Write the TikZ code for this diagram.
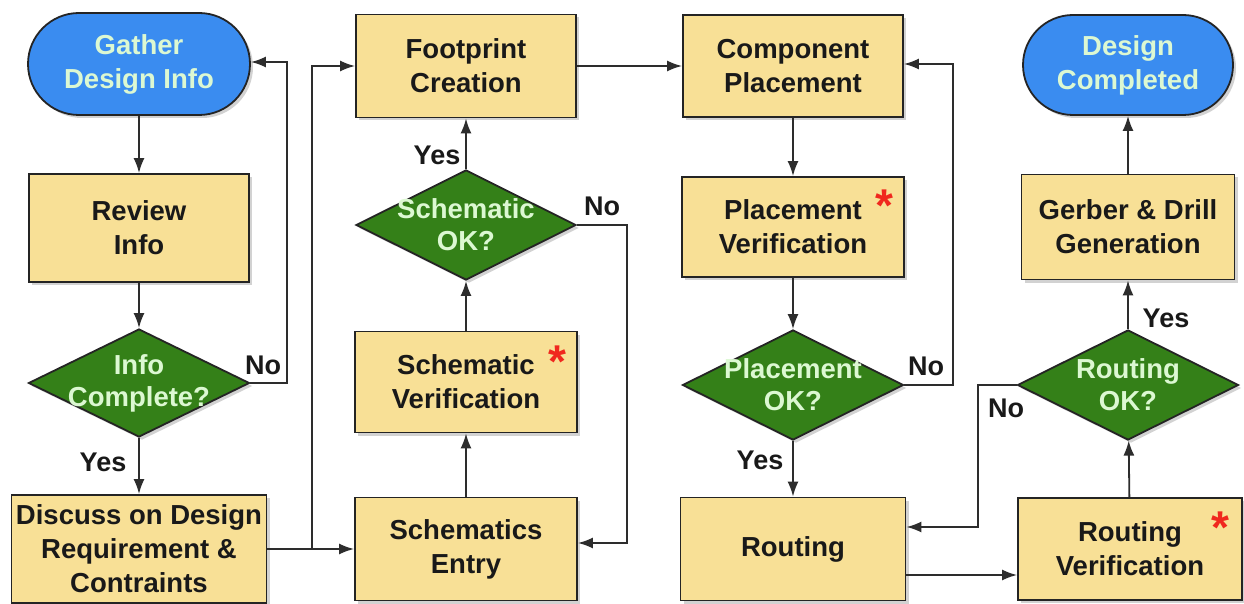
\documentclass[tikz,border=0pt]{standalone}
\usepackage{fontspec}
\setmainfont{Liberation Sans}
\usetikzlibrary{shapes.geometric,shapes.misc,arrows.meta,shadows}
\definecolor{boxyellow}{RGB}{248,224,150}
\definecolor{decgreen}{RGB}{52,128,24}
\definecolor{termblue}{RGB}{58,140,240}
\definecolor{lighttxt}{RGB}{220,248,210}
\definecolor{edgegray}{RGB}{45,45,45}
\definecolor{stared}{RGB}{240,40,30}
\tikzset{
  base/.style={draw=edgegray!80!black, line width=1.8pt, align=center,
    font=\fontsize{27.5}{34}\selectfont\bfseries,
    drop shadow={shadow xshift=3pt, shadow yshift=-3pt, opacity=0.35}},
  procbox/.style={base, rectangle, fill=boxyellow, text=black!90, inner sep=0pt},
  termbox/.style={base, rounded rectangle, fill=termblue, text=lighttxt, inner sep=0pt},
  decbox/.style={base, diamond, fill=decgreen, inner sep=0pt, aspect=2},
  dectext/.style={text=lighttxt, align=center, font=\fontsize{27.5}{32}\selectfont\bfseries},
  conn/.style={draw=edgegray, line width=1.8pt, -{Latex[length=15pt,width=11pt]}},
  lab/.style={font=\fontsize{27}{30}\selectfont\bfseries, text=black!90, inner sep=0pt},
  starmark/.style={font=\fontsize{46}{46}\selectfont\bfseries, text=stared, inner sep=0pt}
}
\begin{document}
\begin{tikzpicture}[x=1pt,y=-1pt]
\fill[white] (0,0) rectangle (1244,604);
\useasboundingbox (0,0) rectangle (1244,604);
% column 1
\node[termbox, minimum width=222pt, minimum height=102pt] (gather) at (139,64) {Gather\\Design Info};
\node[procbox, minimum width=220pt, minimum height=108pt] (review) at (139,228) {Review\\Info};
\node[decbox, minimum width=221pt, minimum height=108pt,
  label={[dectext]center:Info\\Complete?}] (info) at (139,383) {};
\node[procbox, minimum width=255pt, minimum height=108pt] (discuss) at (139,549) {Discuss on Design\\Requirement \&\\Contraints};
% column 2
\node[procbox, minimum width=220pt, minimum height=103pt] (foot) at (466,66) {Footprint\\Creation};
\node[decbox, minimum width=220pt, minimum height=110pt,
  label={[dectext]center:Schematic\\OK?}] (schok) at (466,225) {};
\node[procbox, minimum width=222pt, minimum height=101pt] (schver) at (466,382) {Schematic\\Verification};
\node[procbox, minimum width=222pt, minimum height=103pt] (schent) at (466,549) {Schematics\\Entry};
% column 3
\node[procbox, minimum width=220pt, minimum height=102pt] (comp) at (793,66) {Component\\Placement};
\node[procbox, minimum width=222pt, minimum height=100pt] (plver) at (793,227) {Placement\\Verification};
\node[decbox, minimum width=221pt, minimum height=110pt,
  label={[dectext]center:Placement\\OK?}] (plok) at (793,385) {};
\node[procbox, minimum width=225pt, minimum height=103pt] (route) at (793,549) {Routing};
% column 4
\node[termbox, minimum width=210pt, minimum height=100pt] (done) at (1128,65) {Design\\Completed};
\node[procbox, minimum width=213pt, minimum height=105pt] (gerber) at (1128,227) {Gerber \& Drill\\Generation};
\node[decbox, minimum width=221pt, minimum height=110pt,
  label={[dectext]center:Routing\\OK?}] (rtok) at (1128,385) {};
\node[procbox, minimum width=224pt, minimum height=102pt] (rtver) at (1130,549) {Routing\\Verification};
% asterisks
\node[starmark] (s1) at (557,362) {*};
\node[starmark] (s2) at (884,206) {*};
\node[starmark] (s3) at (1220,528) {*};
% helper coordinates
\coordinate (c1) at (287,383);
\coordinate (j1) at (312,549);
\coordinate (c2) at (627,225);
\coordinate (c3) at (953,385);
\coordinate (c4) at (978,385);
% column 1 connectors
\draw[conn] (gather) -- (review);
\draw[conn] (review) -- (info);
\draw[conn] (info) -- (discuss);
\draw[conn] (info.east) -- (c1) |- ([yshift=2pt]gather.east);
\draw[conn] (discuss.east) -- (schent.west);
\draw[conn] (j1) |- (foot.west);
% column 2
\draw[conn] (schent) -- (schver);
\draw[conn] (schver) -- (schok);
\draw[conn] (schok) -- (foot);
\draw[conn] (schok.east) -- (c2) |- ([yshift=6pt]schent.east);
\draw[conn] (foot.east) -- (comp.west);
% column 3
\draw[conn] (comp) -- (plver);
\draw[conn] (plver) -- (plok);
\draw[conn] (plok) -- (route);
\draw[conn] (plok.east) -- (c3) |- ([yshift=2pt]comp.east);
\draw[conn] ([yshift=-26pt]route.east) -- ([yshift=-26pt]route.east -| rtver.west);
% column 4
\draw[conn] (rtver) -- (rtok);
\draw[conn] (rtok) -- (gerber);
\draw[conn] (gerber) -- (done);
\draw[conn] (rtok.west) -- (c4) |- ([yshift=22pt]route.east);
% labels
\node[lab] (y1) at (103,462) {Yes};
\node[lab] (n1) at (263,365) {No};
\node[lab] (y2) at (437,155) {Yes};
\node[lab] (n2) at (602,206) {No};
\node[lab] (n3) at (926,366) {No};
\node[lab] (y3) at (760,460) {Yes};
\node[lab] (y4) at (1166,318) {Yes};
\node[lab] (n4) at (1006,408) {No};
\end{tikzpicture}
\end{document}
